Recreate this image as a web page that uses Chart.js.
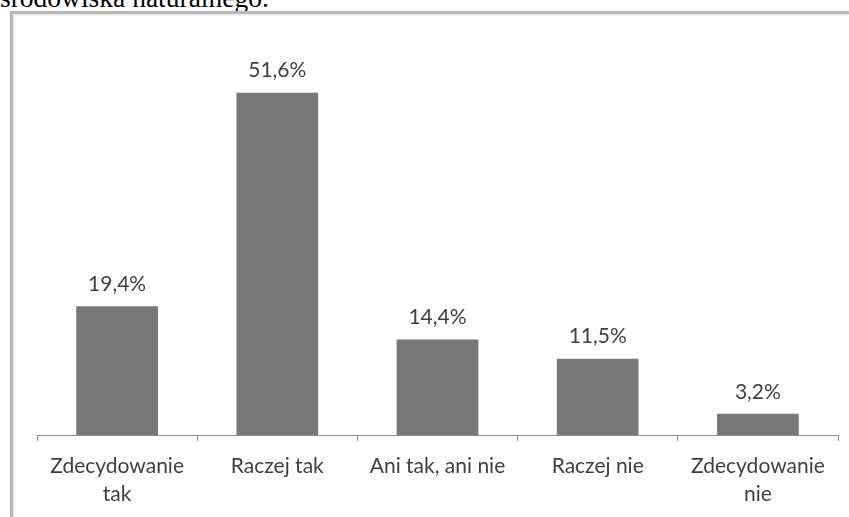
<!DOCTYPE html>
<html>
<head>
<meta charset="utf-8">
<script src="https://cdn.jsdelivr.net/npm/chart.js@4.4.1/dist/chart.umd.min.js"></script>
<style>
    body { margin: 0; background: #fff; width: 849px; height: 517px; overflow: hidden; position: relative; }
    #podpis { position: absolute; left: 0; top: -16.5px; font-family: "Liberation Serif", "Times New Roman", serif; font-size: 27.5px; line-height: 27.5px; color: #000; white-space: nowrap; }
    #ramka { position: absolute; left: 10px; top: 11px; width: 860px; height: 520px; border: 3px solid #b8b8b8; box-shadow: inset 1px 1px 2px #e0e0e0; }
    #wykres { position: absolute; left: 0; top: 0; }
</style>
</head>
<body>
<div id="podpis">środowiska naturalnego.</div>
<div id="ramka"></div>
<canvas id="wykres" width="849" height="517"></canvas>
<script>
// Kategorii odpowiedzi
const kategorie = [
    ['Zdecydowanie', 'tak'],
    'Raczej tak',
    'Ani tak, ani nie',
    'Raczej nie',
    ['Zdecydowanie', 'nie']
];

// Odsetek odpowiedzi (%)
const wartosci = [19.4, 51.6, 14.4, 11.5, 3.2];

// Etykiety nad słupkami
const etykiety = ['19,4%', '51,6%', '14,4%', '11,5%', '3,2%'];

// Plugin do rysowania etykiet nad słupkami
const etykietyPlugin = {
    id: 'etykietySlupkow',
    afterDatasetsDraw(chart) {
        const ctx = chart.ctx;
        const meta = chart.getDatasetMeta(0);
        ctx.save();
        ctx.font = '21px Lato, "Open Sans", sans-serif';
        ctx.fillStyle = '#404040';
        ctx.textAlign = 'center';
        ctx.textBaseline = 'middle';
        meta.data.forEach((bar, i) => {
            ctx.fillText(etykiety[i], bar.x, bar.y - 22);
        });
        ctx.restore();
    }
};

const ctx = document.getElementById('wykres').getContext('2d');
new Chart(ctx, {
    type: 'bar',
    data: {
        labels: kategorie,
        datasets: [{
            data: wartosci,
            backgroundColor: '#787878',
            borderWidth: 0,
            categoryPercentage: 1.0,
            barPercentage: 0.51
        }]
    },
    options: {
        responsive: false,
        animation: false,
        layout: {
            padding: { left: 37, right: 11, top: 37, bottom: 0 }
        },
        plugins: {
            legend: { display: false },
            tooltip: { enabled: false }
        },
        scales: {
            x: {
                grid: {
                    offset: true,
                    drawOnChartArea: false,
                    drawTicks: true,
                    tickLength: 6,
                    color: '#8c8c8c'
                },
                border: { color: '#8c8c8c', width: 1 },
                ticks: {
                    color: '#404040',
                    padding: 11,
                    maxRotation: 0,
                    autoSkip: false,
                    font: { family: 'Lato, "Open Sans", sans-serif', size: 21, lineHeight: 1.33 }
                },
                afterFit(scale) {
                    scale.height = 82;
                }
            },
            y: {
                display: false,
                min: 0,
                max: 60
            }
        }
    },
    plugins: [etykietyPlugin]
});
</script>
</body>
</html>
